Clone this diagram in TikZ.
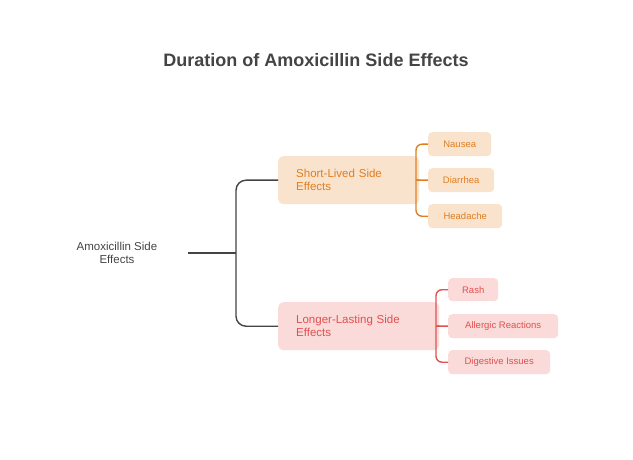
\documentclass[tikz,border=0pt]{standalone}
\usepackage{fontspec}
\setmainfont{Liberation Sans}
\definecolor{obox}{HTML}{FAE3CC}
\definecolor{otext}{HTML}{E07E22}
\definecolor{rbox}{HTML}{FADBD9}
\definecolor{rtext}{HTML}{E2504F}
\definecolor{dark}{HTML}{444444}
\begin{document}
\begin{tikzpicture}[x=1pt,y=-1pt,
  mid/.style={rounded corners=5pt,font=\fontsize{11.5}{13}\selectfont,align=left,inner sep=0pt,anchor=north west},
  leaf/.style={rounded corners=4pt,font=\fontsize{9.5}{11}\selectfont,inner sep=0pt,anchor=north west},
  oline/.style={otext,line width=1.4pt,rounded corners=6pt},
  rline/.style={rtext,line width=1.4pt,rounded corners=6pt}]
\useasboundingbox (0,0) rectangle (633,460);
\node[font=\bfseries\fontsize{18}{20}\selectfont,text=dark] (title) at (316,60) {Duration of Amoxicillin Side Effects};
\node[font=\fontsize{11.5}{13}\selectfont,text=dark,align=center] (root) at (117,253) {Amoxicillin Side\\Effects};
\node[mid,fill=obox,text=otext,minimum width=125pt,minimum height=48pt,text width=105pt,inner xsep=18pt] (s) at (278,156) {Short-Lived Side\\Effects};
\node[mid,fill=rbox,text=rtext,minimum width=145pt,minimum height=48pt,text width=125pt,inner xsep=18pt] (l) at (278,302) {Longer-Lasting Side\\Effects};
\node[leaf,fill=obox,text=otext,minimum width=63pt,minimum height=24pt] (n1) at (428,132) {Nausea};
\node[leaf,fill=obox,text=otext,minimum width=66pt,minimum height=24pt] (n2) at (428,168) {Diarrhea};
\node[leaf,fill=obox,text=otext,minimum width=74pt,minimum height=24pt] (n3) at (428,204) {Headache};
\node[leaf,fill=rbox,text=rtext,minimum width=50pt,minimum height=23pt] (r1) at (448,278) {Rash};
\node[leaf,fill=rbox,text=rtext,minimum width=110pt,minimum height=24pt] (r2) at (448,314) {Allergic Reactions};
\node[leaf,fill=rbox,text=rtext,minimum width=102pt,minimum height=24pt] (r3) at (448,350) {Digestive Issues};
\coordinate (rj) at (236,253);
\draw[dark,line width=1.4pt] (188,253) -- (rj);
\draw[dark,line width=1.4pt,rounded corners=10pt] (s.west) -| (rj) |- (l.west);
\coordinate (sj) at (416,180);
\draw[oline] (s.east) -- (sj);
\draw[oline] (n1.west) -| (sj) |- (n3.west);
\draw[oline] (sj) -- (n2.west);
\coordinate (lj) at (436,326);
\draw[rline] (l.east) -- (lj);
\draw[rline] (r1.west) -| (lj) |- (r3.west);
\draw[rline] (lj) -- (r2.west);
\end{tikzpicture}
\end{document}
